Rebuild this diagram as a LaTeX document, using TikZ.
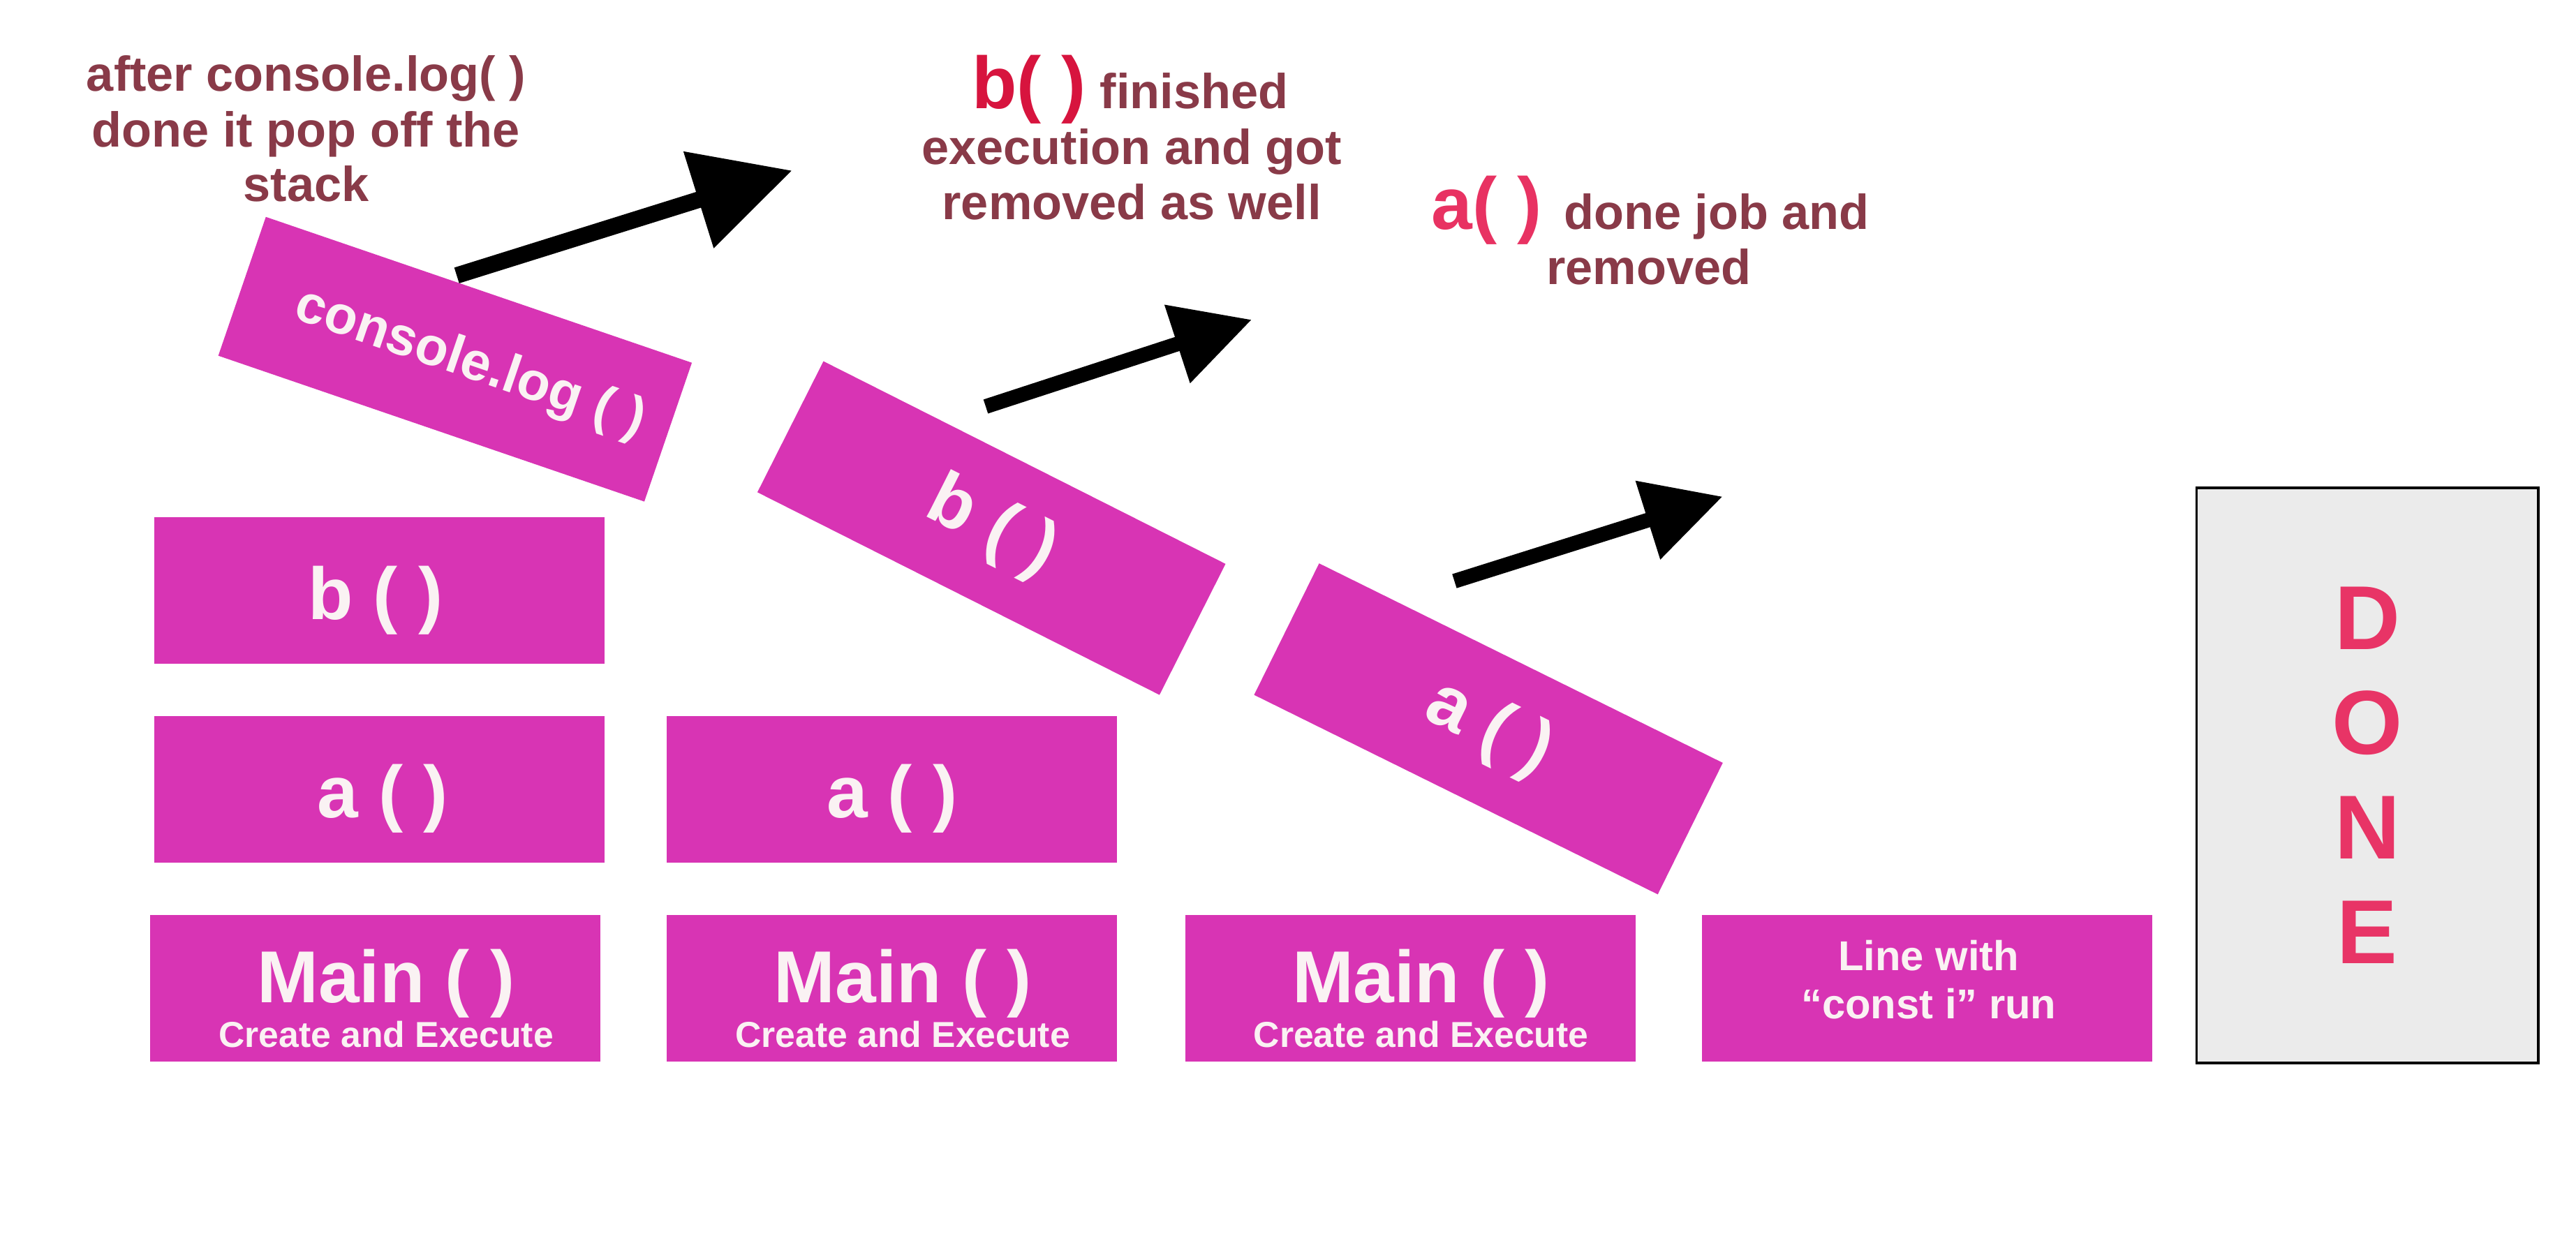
\documentclass[tikz,border=0pt]{standalone}
\usepackage{fontspec}
\setmainfont{Liberation Sans}
\usetikzlibrary{arrows.meta}
\definecolor{boxfill}{RGB}{216,52,180}
\definecolor{notecol}{RGB}{137,58,72}
\definecolor{bred}{RGB}{215,20,62}
\definecolor{ared}{RGB}{232,50,98}
\definecolor{donered}{RGB}{232,52,102}
\definecolor{donebg}{RGB}{235,235,235}
\definecolor{wtext}{RGB}{250,242,243}
\begin{document}
\begin{tikzpicture}[x=0.023533cm,y=-0.023533cm,
  stackbox/.style={fill=boxfill, draw=none, minimum width=183.5pt, minimum height=59.8pt, inner sep=0pt},
  boxtxt/.style={text=wtext, inner sep=0pt, anchor=base, font=\bfseries\fontsize{30}{32}\selectfont},
  rottxt/.style={text=wtext, font=\bfseries\fontsize{30}{32}\selectfont},
  smalltxt/.style={text=wtext, inner sep=0pt, anchor=base, font=\bfseries\fontsize{14.7}{16}\selectfont},
  linetxt/.style={text=wtext, inner sep=0pt, anchor=base, font=\bfseries\fontsize{17}{19}\selectfont},
  note/.style={text=notecol, inner sep=0pt, anchor=base, font=\bfseries\fontsize{20}{22}\selectfont},
  bigarrow/.style={line width=6.7pt, -{Triangle[length=40pt,width=39.5pt]}},
  smallarrow/.style={line width=6pt, -{Triangle[length=32pt,width=32pt]}},
  donebox/.style={fill=donebg, draw=black, line width=1pt, minimum width=139.3pt, minimum height=234.4pt, inner sep=0pt, align=center, text=donered, font=\bfseries\fontsize{37}{42.7}\selectfont}
]
\useasboundingbox (0,0) rectangle (1568,765);
\fill[white] (0,0) rectangle (1568,765);

% upright stack boxes
\node[stackbox] (b1) at (231,359.4) {};
\node[stackbox] (a1) at (231,480.5) {};
\node[stackbox] (a2) at (543,480.5) {};
\node[stackbox] (m1) at (228.5,601.6) {};
\node[stackbox] (m2) at (543,601.6) {};
\node[stackbox] (m3) at (858.5,601.6) {};
\node[stackbox] (ln) at (1173,601.6) {};

\node[boxtxt] (b1t) at (228.5,377.2) {b ( )};
\node[boxtxt] (a1t) at (233,497.6) {a ( )};
\node[boxtxt] (a2t) at (543,497.6) {a ( )};

\node[boxtxt] (m1t) at (235,610.5) {Main ( )};
\node[smalltxt] (m1s) at (235,637.4) {Create and Execute};
\node[boxtxt] (m2t) at (549.5,610.5) {Main ( )};
\node[smalltxt] (m2s) at (549.5,637.4) {Create and Execute};
\node[boxtxt] (m3t) at (865,610.5) {Main ( )};
\node[smalltxt] (m3s) at (865,637.4) {Create and Execute};

\node[linetxt] (ln1) at (1174,590.9) {Line with};
\node[linetxt] (ln2) at (1174,620.2) {“const i” run};

% rotated (popped) boxes
\node[stackbox, rotate=-18.9, rottxt, font=\bfseries\fontsize{22}{24}\selectfont] (cl) at (277,218.7) {\hspace*{12.8pt}console.log ( )};
\node[stackbox, rotate=-26.75, rottxt] (rb) at (603.5,321.5) {b ( )};
\node[stackbox, rotate=-26.3, rottxt] (ra) at (906,443.75) {a ( )};

% DONE
\node[donebox] (done) at (1441,472) {D\\O\\N\\E};

% notes
\node[note] (n1a) at (186.3,55.4) {after console.log( )};
\node[note] (n1b) at (186.3,89.5) {done it pop off the};
\node[note] (n1c) at (186.3,122.7) {stack};

\node[note, anchor=base west] (n2a) at (591.3,66) {{\color{bred}\fontsize{30}{30}\selectfont b( )} finished};
\node[note] (n2b) at (688.9,99.9) {execution and got};
\node[note] (n2c) at (688.9,133.7) {removed as well};

\node[note, anchor=base west] (n3a) at (871.1,139.7) {{\color{ared}\fontsize{30}{30}\selectfont a( )}\, done job and};
\node[note] (n3b) at (1003.7,173) {removed};

% arrows
\coordinate (p1s) at (278,167.7);
\coordinate (p1e) at (482.2,103.8);
\coordinate (p2s) at (600,247.5);
\coordinate (p2e) at (762,194.6);
\coordinate (p3s) at (885.3,353.8);
\coordinate (p3e) at (1048.6,302.3);
\draw[bigarrow] (p1s) -- (p1e);
\draw[smallarrow] (p2s) -- (p2e);
\draw[smallarrow] (p3s) -- (p3e);
\end{tikzpicture}
\end{document}
